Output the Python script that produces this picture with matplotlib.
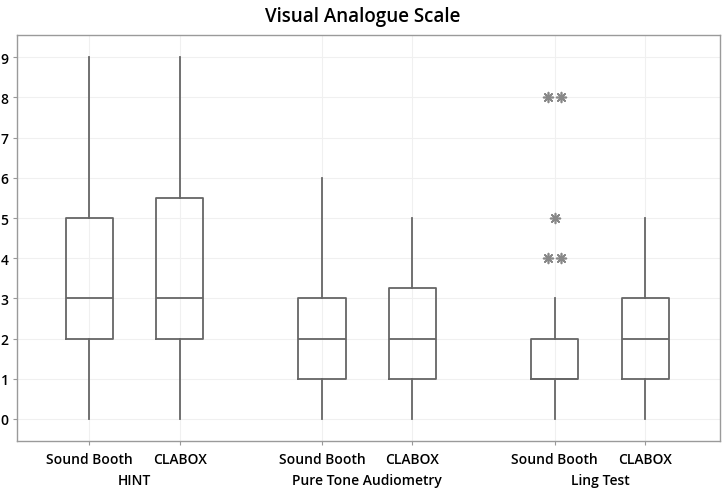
import matplotlib
matplotlib.use("Agg")
import matplotlib.pyplot as plt
import matplotlib.transforms as mtransforms

plt.rcParams['font.family'] = ['Open Sans', 'DejaVu Sans']

groups = ["HINT", "Pure Tone Audiometry", "Ling Test"]
methods = ["Sound Booth", "CLABOX"]

# five-number summaries per box (whisker low, q1, median, q3, whisker high)
whislo = [0, 0, 0, 0, 0, 0]
q1 = [2, 2, 1, 1, 1, 1]
med = [3, 3, 2, 2, 1, 2]
q3 = [5, 5.5, 3, 3.25, 2, 3]
whishi = [9, 9, 6, 5, 3, 5]
outliers = [[], [], [], [], [8, 8, 5, 4, 4], []]

positions = [1, 2, 3.57, 4.57, 6.14, 7.14]
edge = "#666666"

stats = []
for i in range(6):
    stats.append(dict(whislo=whislo[i], q1=q1[i], med=med[i], q3=q3[i],
                      whishi=whishi[i], fliers=[]))

fig = plt.figure(figsize=(7.25, 4.89), dpi=100)
ax = fig.add_axes([0.0234, 0.096, 0.970, 0.830])

ax.bxp(stats, positions=positions, widths=0.52, showcaps=False,
       boxprops=dict(color=edge, linewidth=1.3),
       medianprops=dict(color=edge, linewidth=1.3),
       whiskerprops=dict(color=edge, linewidth=1.3))

# outliers drawn as asterisks, repeated values spread side by side
for pos, vals in zip(positions, outliers):
    for v in set(vals):
        n = vals.count(v)
        for k in range(n):
            dx = (k - (n - 1) / 2) * 0.15
            ax.scatter(pos + dx, v, marker=(8, 2, 0), s=50, color="#888888",
                       linewidths=1.2, zorder=3)

ax.set_xlim(0.2, 7.97)
ax.set_ylim(-0.55, 9.55)
ax.set_yticks(range(10))
ax.set_xticks(positions)
ax.set_xticklabels(methods * 3, fontsize=10, fontweight="semibold")
ax.tick_params(axis="y", labelsize=10, length=3, color="#999999", pad=3)
for lab in ax.get_yticklabels():
    lab.set_fontweight("semibold")
ax.tick_params(axis="x", length=3, color="#999999", pad=5)

ax.grid(True, color="#f0f0f0", linewidth=0.8)
ax.set_axisbelow(True)
for s in ax.spines.values():
    s.set_color("#9a9a9a")
    s.set_linewidth(1.0)

trans = mtransforms.blended_transform_factory(ax.transData, fig.transFigure)
for g, name in enumerate(groups):
    xc = (positions[2 * g] + positions[2 * g + 1]) / 2
    ax.text(xc, 1 - 481 / 489, name, transform=trans, ha="center", va="center",
            fontsize=10, fontweight="semibold")

fig.suptitle("Visual Analogue Scale", x=0.5, y=0.985, fontsize=13.5,
             fontweight="semibold", va="top")

fig.savefig("out.png", dpi=100, facecolor="white")
